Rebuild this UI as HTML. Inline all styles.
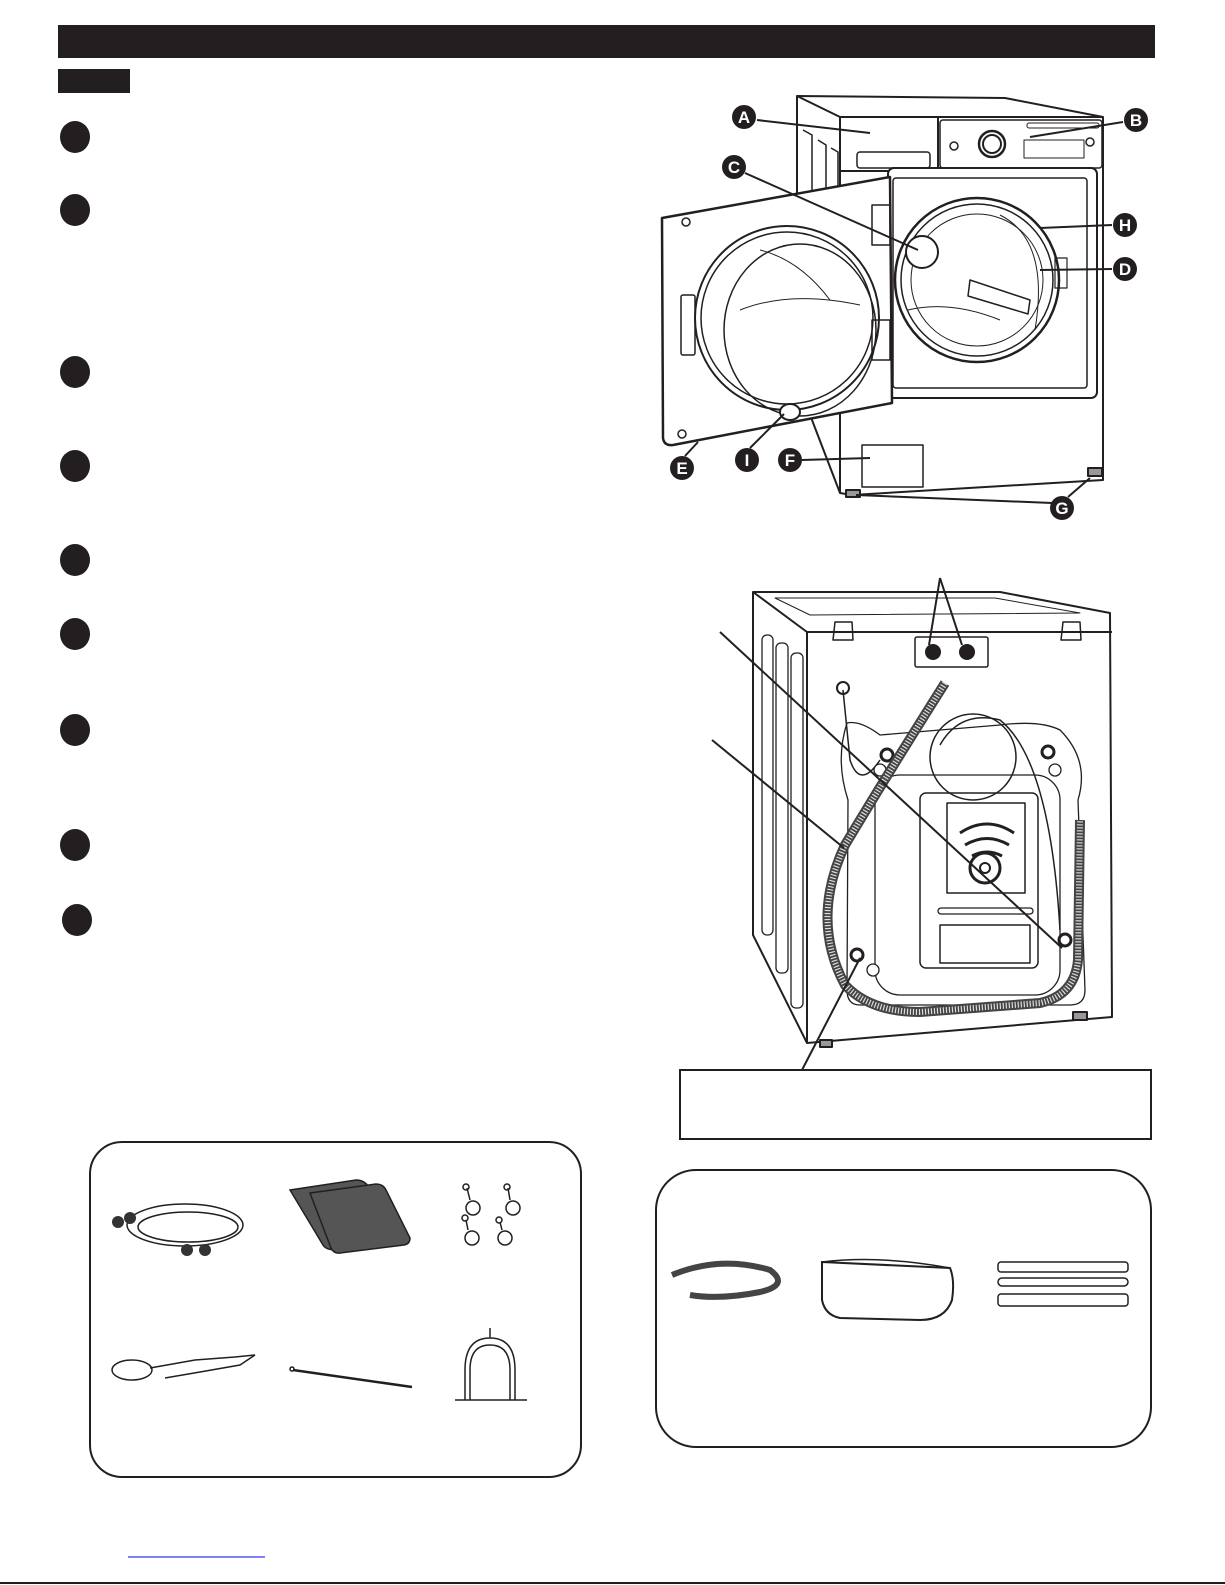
<!DOCTYPE html>
<html><head><meta charset="utf-8"><style>
html,body{margin:0;padding:0;background:#fff}
body{width:1225px;height:1585px;overflow:hidden}
svg{display:block}
text{font-family:"Liberation Sans",sans-serif;font-weight:bold;fill:#fff;font-size:17px;text-anchor:middle}
</style></head><body>
<svg width="1225" height="1585" viewBox="0 0 1225 1585">
<g fill="#231f20">
<rect x="58" y="25" width="1097" height="33"/>
<rect x="58" y="69" width="72" height="24"/>
<ellipse cx="75" cy="137" rx="15" ry="16"/><ellipse cx="75" cy="210" rx="15" ry="16"/>
<ellipse cx="75" cy="372" rx="15" ry="16"/><ellipse cx="75" cy="466" rx="15" ry="16"/>
<ellipse cx="75" cy="560" rx="15" ry="16"/><ellipse cx="75" cy="634" rx="15" ry="16"/>
<ellipse cx="75" cy="730" rx="15" ry="16"/><ellipse cx="75" cy="845" rx="15" ry="16"/>
<ellipse cx="77" cy="920" rx="15" ry="16"/>
</g>

<!-- FRONT WASHER -->
<g fill="none" stroke="#231f20" stroke-width="2" stroke-linejoin="round">
<path d="M797,96 L1005,98 L1103,117 L1103,480 L852,495 L840,493 L812,420 L797,300 Z" fill="#fff"/>
<path d="M840,117 L1103,117 M840,117 L840,493 M797,96 L840,117"/>
<path d="M803,130 L812,135 L812,400 M818,140 L826,145 L826,400 M831,148 L838,152 L838,400" stroke-width="1.5"/>
<rect x="840" y="117" width="98" height="54" fill="#fff"/>
<rect x="857" y="152" width="73" height="16" rx="3" stroke-width="1.5"/>
<rect x="940" y="120" width="162" height="48" rx="3" stroke-width="1.5"/>
<circle cx="992" cy="144" r="13" stroke-width="2.5"/><circle cx="992" cy="144" r="9"/>
<circle cx="954" cy="146" r="4" stroke-width="1.5"/><circle cx="1090" cy="142" r="4" stroke-width="1.5"/>
<rect x="1024" y="140" width="60" height="18" stroke-width="1"/>
<rect x="1027" y="123" width="72" height="5" rx="2" stroke-width="1"/>
<rect x="888" y="168" width="209" height="230" rx="6" fill="#fff"/>
<rect x="893" y="178" width="194" height="210" rx="3" stroke-width="1.5"/>
<circle cx="977" cy="280" r="82" fill="#fff" stroke-width="2.5"/>
<circle cx="977" cy="280" r="76" stroke-width="1.5"/>
<circle cx="977" cy="280" r="66" stroke-width="1"/>
<path d="M1000,215 Q1050,240 1035,330" stroke-width="1"/>
<path d="M970,280 L1030,300 L1028,314 L968,296 Z" fill="#fff" stroke-width="1.5"/>
<path d="M908,310 Q950,300 1000,320" stroke-width="1"/>
<circle cx="922" cy="252" r="16" fill="#fff"/>
<rect x="1055" y="258" width="12" height="30" stroke-width="1.2"/>
<path d="M662,218 L890,177 L892,403 L673,445 Q664,446 663,438 Z" fill="#fff" stroke-width="2.5"/>
<circle cx="787" cy="318" r="92" fill="#fff"/>
<circle cx="787" cy="318" r="86" stroke-width="1.5"/>
<ellipse cx="800" cy="330" rx="76" ry="86" stroke-width="1.5"/>
<path d="M740,310 Q790,290 860,305 M760,250 Q800,260 830,300" stroke-width="1"/>
<rect x="681" y="295" width="14" height="60" rx="2" stroke-width="1.5"/>
<rect x="872" y="205" width="18" height="40" stroke-width="1.5"/>
<rect x="872" y="320" width="18" height="40" stroke-width="1.5"/>
<circle cx="686" cy="222" r="4" stroke-width="1.5"/><circle cx="682" cy="434" r="4" stroke-width="1.5"/>
<ellipse cx="790" cy="412" rx="10" ry="8" fill="#fff"/>
<rect x="862" y="445" width="61" height="42" stroke-width="1.5"/>
<rect x="846" y="490" width="14" height="7" fill="#999"/>
<rect x="1088" y="468" width="14" height="8" fill="#999"/>
</g>
<g stroke="#231f20" stroke-width="2">
<line x1="757" y1="120" x2="870" y2="133"/><line x1="1123" y1="122" x2="1030" y2="137"/>
<line x1="745" y1="173" x2="918" y2="250"/><line x1="1112" y1="225" x2="1040" y2="228"/>
<line x1="1112" y1="269" x2="1040" y2="270"/><line x1="685" y1="456" x2="698" y2="442"/>
<line x1="750" y1="448" x2="784" y2="414"/><line x1="802" y1="460" x2="870" y2="458"/>
<line x1="1052" y1="503" x2="856" y2="495"/><line x1="1068" y1="497" x2="1090" y2="478"/>
</g>
<g fill="#231f20">
<circle cx="744" cy="117" r="12"/><circle cx="1136" cy="120" r="12"/><circle cx="734" cy="167" r="12"/>
<circle cx="1125" cy="225" r="12"/><circle cx="1125" cy="269" r="12"/><circle cx="682" cy="468" r="12"/>
<circle cx="747" cy="460" r="12"/><circle cx="790" cy="460" r="12"/><circle cx="1062" cy="508" r="12"/>
</g>
<g><text x="744" y="123">A</text><text x="1136" y="126">B</text><text x="734" y="173">C</text>
<text x="1125" y="231">H</text><text x="1125" y="275">D</text><text x="682" y="474">E</text>
<text x="747" y="466">I</text><text x="790" y="466">F</text><text x="1062" y="514">G</text></g>

<!-- BACK WASHER -->
<g fill="none" stroke="#231f20" stroke-width="2" stroke-linejoin="round">
<path d="M753,592 L1000,592 L1110,613 L1112,1017 L807,1043 L753,935 Z" fill="#fff"/>
<path d="M753,592 L807,632 L1112,632 M807,632 L807,1043"/>
<path d="M775,598 L995,598 L1080,613 L810,615 Z" stroke-width="1"/>
<rect x="762" y="635" width="11" height="300" rx="5" stroke-width="1.3"/>
<rect x="776" y="643" width="12" height="330" rx="5" stroke-width="1.3"/>
<rect x="791" y="653" width="12" height="355" rx="5" stroke-width="1.3"/>
<rect x="915" y="637" width="73" height="30" rx="2" stroke-width="1.5"/>
<path d="M835,622 L852,622 L853,640 L833,640 Z M1063,622 L1080,622 L1081,640 L1061,640 Z" stroke-width="1.5"/>
<path d="M847,723 Q860,720 880,735 L1000,725 Q1040,720 1060,730 Q1090,760 1078,800 L1085,990 Q1085,1005 1070,1005 L860,1005 Q847,1005 847,990 L848,800 Q835,760 847,723 Z" stroke-width="1.3"/>
<rect x="875" y="775" width="185" height="220" rx="25" stroke-width="1.3"/>
<rect x="920" y="793" width="118" height="175" rx="6" stroke-width="1.5"/>
<rect x="947" y="803" width="78" height="90" stroke-width="1.5"/>
<rect x="940" y="925" width="90" height="38" stroke-width="1.5"/>
<rect x="938" y="908" width="95" height="6" rx="3" stroke-width="1.3"/>
<path d="M960,833 Q987,815 1014,833 M965,845 Q987,832 1009,845 M972,856 Q987,848 1002,856" stroke-width="3"/>
<circle cx="985" cy="868" r="15" stroke-width="3"/><circle cx="985" cy="868" r="5" stroke-width="2"/>
<circle cx="973" cy="757" r="43" stroke-width="1.5"/>
<path d="M940,745 Q960,710 1000,720 Q1050,760 1060,930" stroke-width="1.5"/>
<path d="M843,690 L850,760 Q860,790 880,760" stroke-width="1.5"/>
<circle cx="843" cy="688" r="6" stroke-width="2"/>
<circle cx="887" cy="755" r="6" stroke-width="3"/><circle cx="1048" cy="752" r="6" stroke-width="3"/>
<circle cx="857" cy="955" r="6" stroke-width="3"/><circle cx="1065" cy="940" r="6" stroke-width="3"/>
<circle cx="880" cy="770" r="6" fill="#fff" stroke-width="1.3"/><circle cx="1055" cy="770" r="6" fill="#fff" stroke-width="1.3"/>
<circle cx="873" cy="970" r="6" fill="#fff" stroke-width="1.3"/>
<rect x="820" y="1040" width="12" height="7" fill="#999"/><rect x="1073" y="1012" width="14" height="8" fill="#999"/>
</g>
<path d="M945,683 Q890,770 845,845 Q810,920 845,985 Q870,1012 920,1012 L1040,1003 Q1075,995 1078,960 L1080,820" fill="none" stroke="#444" stroke-width="10"/>
<path d="M945,683 Q890,770 845,845 Q810,920 845,985 Q870,1012 920,1012 L1040,1003 Q1075,995 1078,960 L1080,820" fill="none" stroke="#ddd" stroke-width="6" stroke-dasharray="1.2 1.8"/>
<g fill="#231f20"><circle cx="933" cy="652" r="8"/><circle cx="967" cy="652" r="8"/></g>
<g stroke="#231f20" stroke-width="2">
<line x1="940" y1="578" x2="929" y2="645"/><line x1="940" y1="578" x2="962" y2="645"/>
<line x1="720" y1="632" x2="1062" y2="948"/><line x1="712" y1="740" x2="844" y2="848"/>
<line x1="802" y1="1070" x2="860" y2="958"/>
</g>
<rect x="680" y="1070" width="471" height="69" fill="#fff" stroke="#231f20" stroke-width="2"/>

<!-- ACCESSORIES LEFT -->
<rect x="90" y="1142" width="491" height="335" rx="32" fill="none" stroke="#231f20" stroke-width="2"/>
<g fill="none" stroke="#231f20" stroke-width="1.5">
<ellipse cx="185" cy="1225" rx="58" ry="21"/><ellipse cx="188" cy="1227" rx="50" ry="15"/>
</g>
<g fill="#333"><circle cx="118" cy="1222" r="6"/><circle cx="130" cy="1218" r="6"/><circle cx="187" cy="1250" r="6"/><circle cx="205" cy="1250" r="6"/></g>
<path d="M290,1190 L356,1180 Q364,1180 368,1186 L402,1240 L336,1250 Q326,1250 323,1245 Z" fill="#555" stroke="#231f20" stroke-width="1.5"/>
<path d="M310,1193 L376,1184 Q383,1184 386,1190 L410,1238 Q410,1244 404,1245 L340,1253 Q334,1254 331,1248 Z" fill="#555" stroke="#231f20" stroke-width="1.5"/>
<g fill="none" stroke="#231f20" stroke-width="1.5">
<circle cx="473" cy="1208" r="7"/><circle cx="513" cy="1208" r="7"/><circle cx="472" cy="1238" r="7"/><circle cx="505" cy="1238" r="7"/>
<path d="M467,1188 L470,1200 M508,1188 L510,1200 M466,1220 L468,1230 M500,1222 L502,1230"/>
<circle cx="466" cy="1187" r="3"/><circle cx="507" cy="1187" r="3"/><circle cx="465" cy="1218" r="3"/><circle cx="499" cy="1220" r="3"/>
<ellipse cx="132" cy="1370" rx="20" ry="10"/><path d="M150,1368 L195,1360 L235,1357 L255,1355 L240,1365 L200,1372 L165,1378"/>
<path d="M293,1370 L412,1387" stroke-width="2.5"/><circle cx="292" cy="1369" r="2"/>
<path d="M465,1400 L465,1370 Q465,1338 490,1338 Q515,1338 515,1370 L515,1400 M470,1400 L470,1370 Q470,1345 490,1345 Q510,1345 510,1370 L510,1400 M455,1400 L527,1400 M490,1338 L490,1328"/>
</g>

<!-- ACCESSORIES RIGHT -->
<rect x="656" y="1170" width="495" height="277" rx="40" fill="none" stroke="#231f20" stroke-width="2"/>
<path d="M672,1275 Q720,1255 770,1270 Q790,1285 760,1292 Q720,1300 690,1295" fill="none" stroke="#444" stroke-width="6"/>
<path d="M822,1262 L950,1268 Q955,1280 952,1300 Q945,1320 920,1320 L840,1318 Q825,1315 822,1300 Z" fill="#fff" stroke="#231f20" stroke-width="2"/>
<path d="M822,1262 Q880,1255 950,1268" fill="none" stroke="#231f20" stroke-width="1.5"/>
<g fill="none" stroke="#231f20" stroke-width="1.5">
<rect x="998" y="1262" width="130" height="10" rx="3"/>
<rect x="998" y="1278" width="130" height="8" rx="4"/>
<rect x="998" y="1294" width="130" height="12" rx="3"/>
</g>

<line x1="128" y1="1557" x2="265" y2="1557" stroke="#0000ee" stroke-width="1"/>
<line x1="0" y1="1583" x2="1225" y2="1583" stroke="#231f20" stroke-width="2"/>
</svg>
</body></html>
